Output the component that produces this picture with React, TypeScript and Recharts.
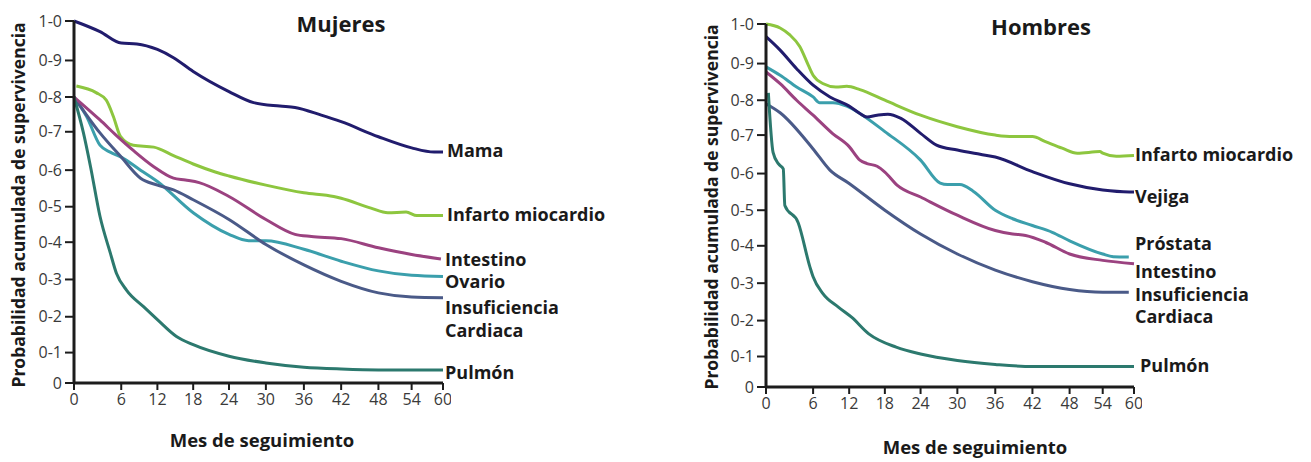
import { LineChart, Line, XAxis, YAxis } from "recharts";

/* ── Survival curves by sex (Mujeres / Hombres) ── */

const months = [0, 6, 12, 18, 24, 30, 36, 42, 48, 54, 60];
const probTicks = [0, 0.1, 0.2, 0.3, 0.4, 0.5, 0.6, 0.7, 0.8, 0.9, 1];

// the printed axes are not evenly spaced: where each tick sits, as a share of the axis length
const monthStops = [0, 0.128, 0.226, 0.323, 0.42, 0.52, 0.623, 0.724, 0.825, 0.915, 1];
const probStops = [0, 0.084, 0.183, 0.286, 0.389, 0.487, 0.588, 0.694, 0.79, 0.891, 1];

// [month, probability]
const mujMama: [number, number][] = [
  [0, 1.0], [3.3, 0.973], [6, 0.944], [8.6, 0.942], [12, 0.928], [14.7, 0.907], [18, 0.87],
  [24, 0.815], [28, 0.784], [32.2, 0.774], [34.6, 0.77], [38.8, 0.748], [42, 0.729],
  [48, 0.687], [54, 0.658], [58.3, 0.647], [60, 0.647],
];
const mujInfarto: [number, number][] = [
  [0.3, 0.83], [2.8, 0.812], [4.1, 0.791], [5, 0.744], [5.9, 0.688], [8, 0.665], [11.4, 0.66],
  [14.7, 0.638], [18, 0.616], [21.7, 0.595], [24, 0.584], [30, 0.559], [36, 0.538],
  [40.8, 0.528], [42, 0.523], [46.8, 0.496], [49.7, 0.483], [53, 0.485], [55, 0.475], [60, 0.475],
];
const mujIntestino: [number, number][] = [
  [0, 0.8], [3.3, 0.734], [5.4, 0.69], [8.1, 0.65], [11.4, 0.609], [14.7, 0.578], [16.7, 0.573],
  [19, 0.566], [24, 0.528], [30, 0.464], [34.6, 0.422], [37.2, 0.416], [42, 0.41], [48, 0.385],
  [54, 0.367], [59.6, 0.355],
];
const mujOvario: [number, number][] = [
  [0, 0.8], [1.6, 0.744], [3.3, 0.665], [4.6, 0.647], [6, 0.634], [9.2, 0.6], [12, 0.569],
  [18, 0.483], [24, 0.422], [27.2, 0.404], [30, 0.404], [36, 0.381], [42, 0.349], [48, 0.323],
  [54, 0.311], [60, 0.308],
];
const mujInsuf: [number, number][] = [
  [0, 0.8], [3.3, 0.697], [6, 0.634], [9.2, 0.578], [12, 0.559], [14.7, 0.546], [18, 0.519],
  [24, 0.464], [30, 0.394], [36, 0.339], [42, 0.295], [48, 0.264], [54, 0.253], [60, 0.251],
];
const mujPulmon: [number, number][] = [
  [0, 0.8], [1.2, 0.697], [2.1, 0.609], [3.3, 0.473], [4.6, 0.372], [5.4, 0.316], [6.9, 0.271],
  [9.7, 0.227], [12, 0.192], [15.2, 0.145], [18, 0.122], [24, 0.088], [30, 0.066], [36, 0.052],
  [42, 0.046], [48, 0.043], [60, 0.043],
];

const homInfarto: [number, number][] = [
  [0, 1.0], [1.8, 0.99], [3, 0.973], [4.3, 0.943], [5.4, 0.895], [6, 0.868], [7.7, 0.845],
  [9.8, 0.836], [11.6, 0.838], [13.8, 0.829], [18, 0.8], [24, 0.757], [30, 0.724], [36, 0.7],
  [38.8, 0.696], [42, 0.696], [44.1, 0.683], [46.8, 0.666], [49.4, 0.653], [53.5, 0.657],
  [54, 0.653], [56.6, 0.645], [60, 0.647],
];
const homVejiga: [number, number][] = [
  [0, 0.968], [1.8, 0.934], [3.9, 0.886], [6, 0.841], [8.8, 0.809], [12, 0.783], [13.8, 0.762],
  [15, 0.752], [16.7, 0.757], [18.5, 0.76], [20.7, 0.748], [24, 0.705], [26.6, 0.674],
  [30, 0.661], [33.6, 0.65], [36, 0.643], [42, 0.605], [48, 0.572], [54, 0.555], [59.1, 0.55],
  [60, 0.55],
];
const homProstata: [number, number][] = [
  [0, 0.891], [1.8, 0.868], [3.9, 0.836], [6, 0.809], [7.1, 0.793], [9.3, 0.793], [11.6, 0.783],
  [13.8, 0.762], [18, 0.71], [24, 0.635], [27.2, 0.574], [28.4, 0.57], [30.4, 0.57],
  [32.5, 0.552], [36, 0.5], [38.8, 0.476], [42, 0.457], [45.2, 0.438], [48, 0.414],
  [54, 0.378], [56, 0.371], [59, 0.37],
];
const homIntestino: [number, number][] = [
  [0, 0.877], [1.8, 0.845], [3.9, 0.8], [6, 0.757], [9.2, 0.705], [12, 0.67], [13.8, 0.635],
  [15, 0.626], [16.7, 0.619], [18, 0.604], [20.1, 0.568], [24, 0.536], [30, 0.486], [36, 0.443],
  [38.8, 0.433], [40.9, 0.429], [44.1, 0.41], [48, 0.378], [54, 0.361], [60, 0.352],
];
const homInsuf: [number, number][] = [
  [0, 0.79], [1.8, 0.764], [6, 0.664], [8.8, 0.609], [12, 0.573], [18, 0.5], [24, 0.433],
  [30, 0.378], [36, 0.335], [42, 0.304], [48, 0.283], [54, 0.276], [59, 0.276],
];
const homPulmon: [number, number][] = [
  [0.3, 0.82], [0.9, 0.655], [1.6, 0.625], [2.2, 0.612], [2.4, 0.513], [4.1, 0.465],
  [5.6, 0.343], [6, 0.317], [7.6, 0.273], [10.2, 0.236], [12.4, 0.209], [15.3, 0.163],
  [19.9, 0.126], [24, 0.107], [30, 0.087], [36, 0.074], [42, 0.067], [60, 0.067],
];

const NAVY = "#211c6d";
const GREEN = "#8dc63f";
const MAGENTA = "#9b4280";
const TEAL = "#3b9fac";
const SLATE = "#4a5a88";
const PULMON = "#2c796e";
const FONT = "'Open Sans', 'Noto Sans', sans-serif";

// piecewise linear scale that puts each tick where the printed axis has it
function stretchScale(values: number[], fracs: number[]): any {
  let dom = [values[0], values[values.length - 1]];
  let rng = [0, 1];
  const scale: any = (v: number) => {
    let i = 1;
    while (i < values.length - 1 && v > values[i]) i++;
    const t = (v - values[i - 1]) / (values[i] - values[i - 1]);
    const f = fracs[i - 1] + t * (fracs[i] - fracs[i - 1]);
    return rng[0] + f * (rng[1] - rng[0]);
  };
  scale.domain = (d?: number[]) => {
    if (!d) return dom.slice();
    dom = [...d];
    return scale;
  };
  scale.range = (r?: number[]) => {
    if (!r) return rng.slice();
    rng = [...r];
    return scale;
  };
  scale.copy = () => stretchScale(values, fracs).domain(dom).range(rng);
  scale.ticks = () => values.slice();
  scale.tickFormat = () => (v: number) => String(v);
  scale.clamp = () => scale;
  return scale;
}

const monthScale = stretchScale(months, monthStops);
const probScale = stretchScale(probTicks, probStops);

const toPts = (s: [number, number][]) => s.map(([m, p]) => ({ m, p }));
const fmtProb = (v: number) => (v === 0 ? "0" : v.toFixed(1).replace(".", "-"));

interface Series {
  key: string;
  color: string;
  data: [number, number][];
}

interface PanelProps {
  left: number;
  width: number;
  top: number;
  bottom: number;
  series: Series[];
}

function Panel({ left, width, top, bottom, series }: PanelProps) {
  const tick = { fontSize: 16, fill: "#3a3a3a", fontFamily: FONT };
  return (
    <div style={{ position: "absolute", left, top: 0 }}>
      <LineChart width={width} height={462} margin={{ top, right: 8, bottom, left: 0 }}>
        <XAxis
          dataKey="m"
          type="number"
          domain={[0, 60]}
          ticks={months}
          scale={monthScale}
          allowDuplicatedCategory={false}
          interval={0}
          height={30}
          tick={tick}
          tickSize={7}
          tickMargin={4}
          axisLine={{ stroke: "#1c1c1c", strokeWidth: 3 }}
          tickLine={{ stroke: "#1c1c1c", strokeWidth: 2 }}
        />
        <YAxis
          dataKey="p"
          type="number"
          domain={[0, 1]}
          ticks={probTicks}
          scale={probScale}
          interval={0}
          width={74}
          tick={tick}
          tickSize={9}
          tickMargin={3}
          tickFormatter={fmtProb}
          axisLine={{ stroke: "#1c1c1c", strokeWidth: 3 }}
          tickLine={{ stroke: "#1c1c1c", strokeWidth: 2 }}
        />
        {series.map((s) => (
          <Line
            key={s.key}
            data={toPts(s.data)}
            dataKey="p"
            type="monotone"
            stroke={s.color}
            strokeWidth={3}
            dot={false}
            activeDot={false}
            isAnimationActive={false}
          />
        ))}
      </LineChart>
    </div>
  );
}

function Txt({ x, y, size, children, rotate, center }: any) {
  return (
    <div
      style={{
        position: "absolute",
        left: x,
        top: y,
        transform: `translate(${center ? "-50%" : "0"}, -50%)${rotate ? " rotate(-90deg)" : ""}`,
        fontFamily: FONT,
        fontWeight: 700,
        fontSize: size,
        color: "#1a1a1a",
        whiteSpace: "nowrap",
        lineHeight: 1,
      }}
    >
      {children}
    </div>
  );
}

export default function App() {
  return (
    <div style={{ position: "absolute", left: 0, top: 0, width: 1311, height: 462, background: "#fff" }}>
      <Panel
        left={0}
        width={451}
        top={21}
        bottom={49}
        series={[
          { key: "mama", color: NAVY, data: mujMama },
          { key: "infarto", color: GREEN, data: mujInfarto },
          { key: "ovario", color: TEAL, data: mujOvario },
          { key: "insuf", color: SLATE, data: mujInsuf },
          { key: "intestino", color: MAGENTA, data: mujIntestino },
          { key: "pulmon", color: PULMON, data: mujPulmon },
        ]}
      />
      <Panel
        left={692}
        width={450}
        top={24}
        bottom={45}
        series={[
          { key: "infarto", color: GREEN, data: homInfarto },
          { key: "prostata", color: TEAL, data: homProstata },
          { key: "vejiga", color: NAVY, data: homVejiga },
          { key: "insuf", color: SLATE, data: homInsuf },
          { key: "intestino", color: MAGENTA, data: homIntestino },
          { key: "pulmon", color: PULMON, data: homPulmon },
        ]}
      />

      <Txt x={341} y={23} size={22} center>Mujeres</Txt>
      <Txt x={1041} y={26} size={22} center>Hombres</Txt>

      <Txt x={19} y={205} size={17.5} center rotate>Probabilidad acumulada de supervivencia</Txt>
      <Txt x={712} y={207} size={17.5} center rotate>Probabilidad acumulada de supervivencia</Txt>

      <Txt x={262} y={440} size={18.5} center>Mes de seguimiento</Txt>
      <Txt x={975} y={447} size={18.5} center>Mes de seguimiento</Txt>

      <Txt x={447} y={150} size={18}>Mama</Txt>
      <Txt x={447} y={214} size={18}>Infarto miocardio</Txt>
      <Txt x={445} y={259} size={18}>Intestino</Txt>
      <Txt x={445} y={281} size={18}>Ovario</Txt>
      <Txt x={445} y={307} size={18}>Insuficiencia</Txt>
      <Txt x={445} y={330} size={18}>Cardiaca</Txt>
      <Txt x={445} y={372} size={18}>Pulmón</Txt>

      <Txt x={1135} y={154} size={18}>Infarto miocardio</Txt>
      <Txt x={1135} y={196} size={18}>Vejiga</Txt>
      <Txt x={1135} y={243} size={18}>Próstata</Txt>
      <Txt x={1135} y={271} size={18}>Intestino</Txt>
      <Txt x={1135} y={294} size={18}>Insuficiencia</Txt>
      <Txt x={1135} y={316} size={18}>Cardiaca</Txt>
      <Txt x={1140} y={365} size={18}>Pulmón</Txt>
    </div>
  );
}
